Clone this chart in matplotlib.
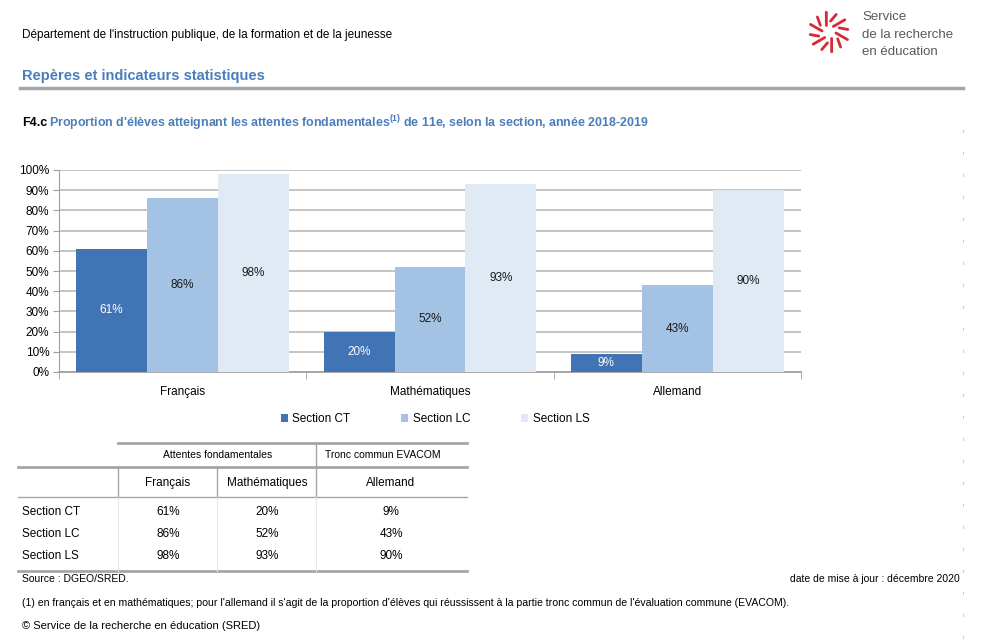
import matplotlib.pyplot as plt
import numpy as np
from matplotlib.lines import Line2D

plt.rcParams['font.family'] = ['Liberation Sans', 'DejaVu Sans']
plt.rcParams['mathtext.fontset'] = 'custom'
plt.rcParams['mathtext.rm'] = 'Liberation Sans'
plt.rcParams['mathtext.bf'] = 'Liberation Sans:bold'

subjects = ['Français', 'Mathématiques', 'Allemand']
sections = ['Section CT', 'Section LC', 'Section LS']
ct = [61, 20, 9]
lc = [86, 52, 43]
ls = [98, 93, 90]
yticks = [0, 10, 20, 30, 40, 50, 60, 70, 80, 90, 100]

colors = ['#4074B4', '#A4C3E4', '#E0EAF5']
blue_txt = '#4A7EBB'

W, H = 1004, 640
fig = plt.figure(figsize=(W / 100, H / 100), dpi=100)


def px(x, y):
    return x / W, 1 - y / H


def ftext(x, y, s, **kw):
    fig.text(*px(x, y), s, **kw)


def fline(xs, ys, **kw):
    fig.add_artist(Line2D([x / W for x in xs], [1 - y / H for y in ys], **kw))


# header
ftext(22, 35, "Département de l'instruction publique, de la formation et de la jeunesse",
      fontsize=8.5, va='center')
ftext(22, 76, 'Repères et indicateurs statistiques', fontsize=10.5, fontweight='bold',
      color=blue_txt, va='center')
fline([20, 963], [88, 88], color='#A6A6A6', lw=2.5)

# logo
cx, cy = 829, 32
for i, a in enumerate(np.arange(0, 360, 30)):
    t = np.radians(a + 8)
    r1, r2 = (7, 20) if i % 2 == 0 else (11, 19)
    fline([cx + r1 * np.cos(t), cx + r2 * np.cos(t + 0.25)],
          [cy + r1 * np.sin(t), cy + r2 * np.sin(t + 0.25)],
          color='#D52B34', lw=2, solid_capstyle='round')
for k, s in enumerate(['Service', 'de la recherche', 'en éducation']):
    ftext(862, 17 + k * 17.5, s, fontsize=9.5, color='#595959', va='center')

# chart title
ftext(22, 123, 'F4.c', fontsize=9, fontweight='bold', va='center')
ftext(49, 123, "Proportion d'élèves atteignant les attentes fondamentales$^{\\mathbf{(1)}}$ de 11e, "
      "selon la section, année 2018-2019", fontsize=8.9, fontweight='bold',
      color=blue_txt, va='center')

# bar chart
ax = fig.add_axes([59 / W, 1 - 372 / H, (801 - 59) / W, (372 - 170) / H])
x = np.arange(len(subjects))
bw = 0.287
for j, (vals, c) in enumerate(zip([ct, lc, ls], colors)):
    bars = ax.bar(x + (j - 1) * bw, vals, bw, color=c, label=sections[j], zorder=3)
    ax.bar_label(bars, labels=[f'{v}%' for v in vals], label_type='center',
                 fontsize=8.5, color='white' if j == 0 else '#1a1a1a')

ax.set_xlim(-0.5, 2.5)
ax.set_ylim(0, 100)
ax.set_yticks(yticks)
ax.set_yticklabels([f'{v}%' for v in yticks], fontsize=8.5)
ax.set_xticks(x)
ax.set_xticklabels(subjects, fontsize=8.5)
ax.tick_params(axis='x', length=0, pad=10)
ax.tick_params(axis='y', length=4, color='#A0A0A0', pad=3)
ax.set_xticks([-0.5, 0.5, 1.5, 2.5], minor=True)
ax.tick_params(axis='x', which='minor', length=5, color='#A0A0A0', direction='out')
ax.grid(axis='y', color='#BFBFBF', lw=1.3, zorder=0)
for s in ['top', 'right']:
    ax.spines[s].set_visible(False)
ax.spines['left'].set_color('#A0A0A0')
ax.spines['bottom'].set_color('#A0A0A0')
ax.spines['bottom'].set_linewidth(1.3)
ax.legend(loc='upper center', bbox_to_anchor=(0.507, -0.15), ncol=3, frameon=False,
          fontsize=8.5, handlelength=0.6, handleheight=0.6, columnspacing=4.3,
          handletextpad=0.4)

# data table
tc = '#A6A6A6'
fline([118, 467], [443, 443], color=tc, lw=2)
fline([18, 467], [467, 467], color=tc, lw=2)
fline([18, 467], [497, 497], color=tc, lw=1)
fline([18, 467], [571, 571], color=tc, lw=2)
fline([316, 316], [443, 497], color=tc, lw=1)
for xv in [118, 217]:
    fline([xv, xv], [467, 497], color=tc, lw=1)
for xv in [118, 217, 316]:
    fline([xv, xv], [497, 571], color='#E6E6E6', lw=0.8)

ftext(218, 455, 'Attentes fondamentales', fontsize=7.5, ha='center', va='center')
ftext(383, 455, 'Tronc commun EVACOM', fontsize=7.5, ha='center', va='center')
col_x = [168, 267, 391]
for cxx, s in zip(col_x, subjects):
    ftext(cxx, 483, s, fontsize=8.5, ha='center', va='center')
for i, (name, vals) in enumerate(zip(sections, [ct, lc, ls])):
    yy = 512 + i * 22
    ftext(22, yy, name, fontsize=8.5, va='center')
    for cxx, v in zip(col_x, vals):
        ftext(cxx, yy, f'{v}%', fontsize=8.5, ha='center', va='center')

# notes
ftext(22, 579, 'Source : DGEO/SRED.', fontsize=7.5, va='center')
ftext(960, 579, 'date de mise à jour : décembre 2020', fontsize=7.5, va='center', ha='right')
ftext(22, 603, "(1) en français et en mathématiques; pour l'allemand il s'agit de la proportion "
      "d'élèves qui réussissent à la partie tronc commun de l'évaluation commune (EVACOM).",
      fontsize=7.6, va='center')
ftext(22, 626, '© Service de la recherche en éducation (SRED)', fontsize=8, va='center')

# faint page edge marks
for yy in range(130, 640, 22):
    fline([963, 963], [yy, yy + 1.5], color='#D0D0D0', lw=0.8)

fig.savefig('out.png', dpi=100)
